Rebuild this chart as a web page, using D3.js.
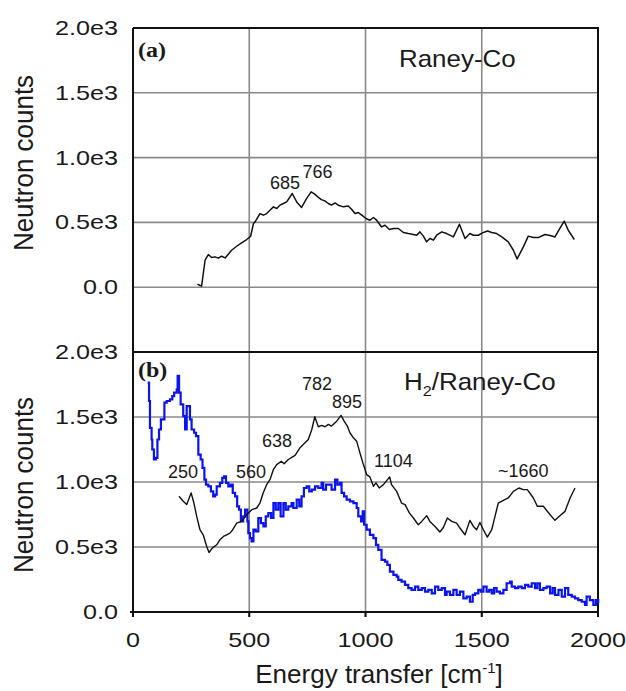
<!DOCTYPE html>
<html>
<head>
<meta charset="utf-8">
<script src="https://cdn.jsdelivr.net/npm/d3@7"></script>
<style>
  html, body { margin: 0; padding: 0; background: #fff; }
  svg { display: block; }
  text { font-family: "Liberation Sans", Arial, sans-serif; fill: #1a1a1a; }
</style>
</head>
<body>
<svg id="chart" width="626" height="691"></svg>
<script>
// Raney-Co inelastic neutron spectrum (panel a)
const rcEnergy = [277, 295, 310, 324, 338, 353, 367, 381, 396, 410, 424, 446, 467, 489, 506, 518, 525, 546, 561, 575,
  589, 604, 618, 632, 647, 661, 685, 705, 725, 745, 766, 780, 795, 810, 825, 840, 854, 869, 883, 905,
  926, 941, 955, 969, 984, 1002, 1019, 1034, 1048, 1069, 1084, 1103, 1120, 1141, 1163, 1184, 1206, 1220, 1234, 1249,
  1263, 1277, 1292, 1306, 1328, 1349, 1378, 1404, 1428, 1449, 1464, 1485, 1503, 1525, 1543, 1564, 1586, 1614, 1636, 1652,
  1679, 1700, 1722, 1743, 1772, 1794, 1815, 1836, 1855, 1872, 1898];
const rcCounts = [23, 8, 208, 252, 229, 234, 224, 239, 226, 255, 285, 316, 342, 368, 393, 491, 504, 568, 556, 568,
  594, 620, 607, 633, 646, 658, 723, 655, 615, 680, 736, 720, 697, 676, 666, 646, 633, 650, 633, 620,
  627, 600, 568, 576, 556, 530, 517, 538, 517, 465, 478, 445, 453, 453, 422, 414, 407, 401, 427, 394,
  350, 376, 363, 401, 427, 414, 388, 486, 376, 414, 401, 401, 419, 434, 422, 414, 388, 350, 285, 218,
  311, 394, 383, 383, 407, 399, 388, 453, 509, 440, 368];

// H2/Raney-Co spectrum (panel b, black)
const h2Energy = [198, 216, 231, 250, 262, 274, 288, 302, 317, 327, 341, 360, 374, 389, 403, 417, 429, 446, 467, 489,
  511, 532, 546, 560, 575, 589, 604, 618, 638, 650, 668, 683, 697, 718, 740, 754, 769, 782, 797, 811,
  826, 840, 854, 876, 895, 908, 922, 933, 948, 962, 976, 991, 1005, 1019, 1034, 1045, 1059, 1077, 1104, 1112,
  1134, 1155, 1170, 1189, 1206, 1227, 1242, 1263, 1277, 1299, 1320, 1335, 1352, 1371, 1392, 1406, 1428, 1449, 1464, 1478,
  1492, 1507, 1524, 1543, 1557, 1571, 1593, 1614, 1636, 1660, 1679, 1696, 1722, 1739, 1765, 1794, 1815, 1836, 1858, 1880,
  1901];
const h2Counts = [890, 852, 826, 916, 838, 735, 633, 594, 504, 458, 491, 517, 556, 581, 594, 607, 633, 684, 697, 748,
  787, 800, 838, 916, 980, 1018, 1096, 1134, 1160, 1140, 1173, 1190, 1205, 1263, 1302, 1327, 1404, 1502, 1425, 1435,
  1425, 1443, 1430, 1468, 1512, 1468, 1430, 1379, 1340, 1314, 1224, 1134, 1057, 1039, 967, 993, 954, 980, 1039, 980,
  928, 838, 826, 761, 723, 671, 697, 741, 697, 658, 615, 650, 723, 697, 684, 646, 594, 705, 658, 633,
  689, 633, 576, 633, 735, 838, 859, 877, 928, 954, 941, 941, 877, 813, 813, 748, 705, 741, 774, 877,
  954];

// Second spectrum in panel b (blue histogram)
const histEnergy = [63, 69, 73, 80, 83, 90, 98, 105, 112, 120, 130, 135, 145, 159, 169, 177, 188, 192, 198, 205,
  216, 224, 231, 241, 245, 252, 263, 271, 281, 291, 299, 307, 314, 324, 335, 345, 353, 360, 374, 384,
  392, 400, 410, 420, 429, 439, 448, 456, 464, 474, 482, 492, 496, 503, 510, 518, 528, 539, 550, 561,
  571, 582, 594, 604, 614, 625, 635, 647, 657, 668, 682, 690, 704, 715, 725, 735, 747, 758, 769, 783,
  797, 811, 818, 830, 844, 854, 869, 879, 890, 897, 908, 919, 933, 948, 962, 969, 981, 988, 994, 1005,
  1019, 1034, 1045, 1055, 1069, 1084, 1094, 1105, 1120, 1134, 1141, 1155, 1170, 1184, 1198, 1213, 1227, 1242, 1256, 1270,
  1285, 1299, 1313, 1328, 1342, 1349, 1363, 1378, 1392, 1406, 1421, 1435, 1449, 1461, 1471, 1485, 1496, 1507, 1521, 1532,
  1543, 1553, 1564, 1578, 1593, 1607, 1622, 1629, 1643, 1657, 1672, 1686, 1700, 1715, 1729, 1739, 1750, 1765, 1779, 1794,
  1805, 1815, 1830, 1844, 1858, 1872, 1887, 1901, 1915, 1930, 1944, 1951, 1965, 1980, 1991, 2001];
const histCounts = [1765, 1623, 1417, 1327, 1250, 1173, 1186, 1327, 1404, 1481, 1481, 1610, 1623, 1636, 1661, 1688, 1713, 1816, 1688, 1597,
  1507, 1404, 1584, 1584, 1481, 1404, 1379, 1353, 1211, 1173, 1109, 1018, 980, 967, 928, 890, 903, 967, 993, 1031,
  1044, 993, 967, 980, 916, 890, 813, 787, 697, 735, 787, 697, 607, 569, 543, 633, 620, 723, 684, 658,
  735, 761, 723, 838, 787, 838, 735, 838, 787, 813, 838, 800, 864, 813, 890, 954, 967, 928, 941, 967,
  954, 993, 941, 980, 980, 941, 1018, 980, 993, 916, 890, 864, 851, 838, 800, 735, 697, 774, 671, 633,
  594, 569, 517, 478, 401, 388, 363, 311, 285, 272, 247, 234, 208, 183, 170, 195, 170, 183, 157, 170,
  144, 195, 170, 183, 131, 157, 131, 170, 131, 157, 105, 118, 79, 131, 144, 170, 157, 195, 157, 170,
  144, 183, 157, 144, 170, 221, 234, 195, 183, 195, 183, 208, 195, 221, 183, 221, 170, 183, 195, 144,
  183, 131, 170, 118, 183, 131, 118, 105, 92, 79, 54, 118, 92, 54, 92, 67];

// Axis ticks and labels
const xTicks = [0, 500, 1000, 1500, 2000];
const xTickLabels = ["0", "500", "1000", "1500", "2000"];
const yTicks = [0, 500, 1000, 1500, 2000];
const yTickLabels = ["0.0", "0.5e3", "1.0e3", "1.5e3", "2.0e3"];

// Peak annotations: label text and anchor point in data units
const peaksA = [
  { text: "685", e: 589, v: 756 },
  { text: "766", e: 729, v: 841 }
];
const peaksB = [
  { text: "250", e: 150, v: 1030 },
  { text: "560", e: 443, v: 1030 },
  { text: "638", e: 555, v: 1270 },
  { text: "782", e: 727, v: 1710 },
  { text: "895", e: 856, v: 1570 },
  { text: "1104", e: 1037, v: 1118 },
  { text: "~1660", e: 1570, v: 1040 }
];

const svg = d3.select("#chart");
const M = { left: 133, right: 598, top: 28, mid: 352, bottom: 612 };

const x = d3.scaleLinear().domain([0, 2000]).range([M.left, M.right]);
const yA = d3.scaleLinear().domain([-500, 2000]).range([M.mid, M.top]);
const yB = d3.scaleLinear().domain([0, 2000]).range([M.bottom, M.mid]);

const gridColor = "#8a8a8a";

// text helper with optional horizontal stretch
function label(g, tx, ty, str, opts = {}) {
  const t = g.append("text")
    .attr("transform", `translate(${tx},${ty}) scale(${opts.sx || 1},1)` + (opts.rot ? ` rotate(${opts.rot})` : ""))
    .attr("font-size", opts.size || 18)
    .attr("text-anchor", opts.anchor || "start");
  if (opts.family) t.style("font-family", opts.family);
  if (opts.weight) t.attr("font-weight", opts.weight);
  t.text(str);
  return t;
}

// ---------- grid ----------
const grid = svg.append("g");
grid.selectAll("line.ha").data([0, 500, 1000, 1500]).join("line")
  .attr("x1", M.left).attr("x2", M.right)
  .attr("y1", d => yA(d)).attr("y2", d => yA(d))
  .attr("stroke", gridColor).attr("stroke-width", 1.6);
grid.selectAll("line.hb").data([500, 1000, 1500]).join("line")
  .attr("x1", M.left).attr("x2", M.right)
  .attr("y1", d => yB(d)).attr("y2", d => yB(d))
  .attr("stroke", gridColor).attr("stroke-width", 1.6);
grid.selectAll("line.v").data([500, 1000, 1500]).join("line")
  .attr("x1", d => x(d)).attr("x2", d => x(d))
  .attr("y1", M.top).attr("y2", M.bottom + 5)
  .attr("stroke", gridColor).attr("stroke-width", 1.6);

// ---------- frames ----------
const frame = svg.append("g").attr("stroke", "#111").attr("stroke-width", 2).attr("fill", "none");
frame.append("line").attr("x1", M.left).attr("x2", M.right + 1).attr("y1", M.top).attr("y2", M.top);
frame.append("line").attr("x1", M.right).attr("x2", M.right).attr("y1", M.top).attr("y2", M.bottom + 5);
frame.append("line").attr("x1", M.left).attr("x2", M.left).attr("y1", M.top).attr("y2", M.bottom + 5);
frame.append("line").attr("x1", M.left).attr("x2", M.right).attr("y1", M.mid).attr("y2", M.mid);
frame.append("line").attr("x1", M.left - 3).attr("x2", M.right).attr("y1", M.bottom).attr("y2", M.bottom);
frame.selectAll("line.xt").data(xTicks).join("line")
  .attr("x1", d => x(d)).attr("x2", d => x(d))
  .attr("y1", M.bottom).attr("y2", M.bottom + 5);

// ---------- curves ----------
const lineA = d3.line().x((d, i) => x(rcEnergy[i])).y(d => yA(d));
svg.append("path").attr("d", lineA(rcCounts))
  .attr("fill", "none").attr("stroke", "#111").attr("stroke-width", 1.5).attr("stroke-linejoin", "round");

const histLine = d3.line().curve(d3.curveStepAfter).x((d, i) => x(histEnergy[i])).y(d => yB(d));
svg.append("path").attr("d", histLine(histCounts))
  .attr("fill", "none").attr("stroke", "#0a14f0").attr("stroke-width", 2.2);

const lineB = d3.line().x((d, i) => x(h2Energy[i])).y(d => yB(d));
svg.append("path").attr("d", lineB(h2Counts))
  .attr("fill", "none").attr("stroke", "#111").attr("stroke-width", 1.4).attr("stroke-linejoin", "round");

// ---------- tick labels ----------
const txt = svg.append("g");
[yA, yB].forEach(y => {
  yTicks.forEach((t, i) => {
    label(txt, 118, y(t) + 7, yTickLabels[i], { size: 20, sx: 1.26, anchor: "end" });
  });
});
xTicks.forEach((t, i) => {
  label(txt, x(t), 647, xTickLabels[i], { size: 20, sx: 1.26, anchor: "middle" });
});

// axis titles
label(txt, 33, 163, "Neutron counts", { size: 26, sx: 1.05, anchor: "middle", rot: -90 });
label(txt, 33, 485, "Neutron counts", { size: 26, sx: 1.05, anchor: "middle", rot: -90 });
const xt = label(txt, 379, 683, "", { size: 26, anchor: "middle" });
xt.append("tspan").text("Energy transfer [cm");
xt.append("tspan").attr("font-size", 15).attr("dy", -10).text("-1");
xt.append("tspan").attr("dy", 10).text("]");

// panel tags and titles
const serif = "'Liberation Serif', 'Times New Roman', serif";
label(txt, 138, 57, "(a)", { size: 20, sx: 1.2, weight: "bold", family: serif });
label(txt, 138, 377, "(b)", { size: 20, sx: 1.2, weight: "bold", family: serif });
label(txt, 399, 67, "Raney-Co", { size: 24, sx: 1.08 });
const h2 = label(txt, 404, 390, "", { size: 24, sx: 1.08 });
h2.append("tspan").text("H");
h2.append("tspan").attr("font-size", 15).attr("dy", 6).text("2");
h2.append("tspan").attr("dy", -6).text("/Raney-Co");

// peak annotations
peaksA.forEach(p => label(txt, x(p.e), yA(p.v), p.text, { size: 18 }));
peaksB.forEach(p => label(txt, x(p.e), yB(p.v), p.text, { size: 18 }));
</script>
</body>
</html>
